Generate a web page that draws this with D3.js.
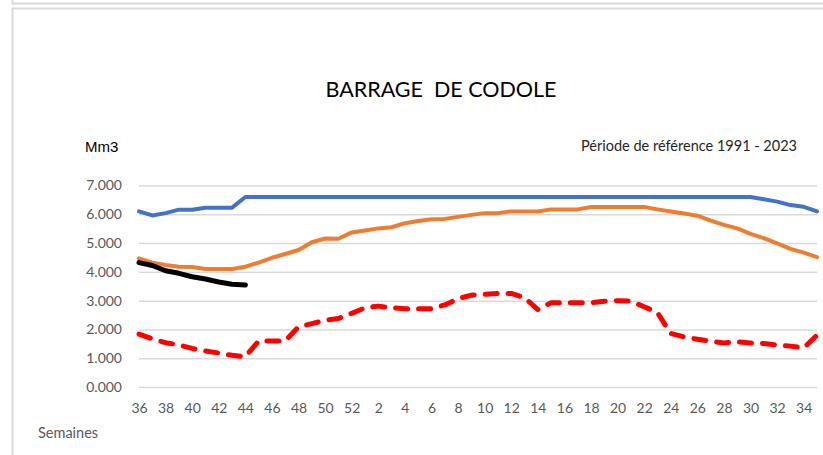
<!DOCTYPE html>
<html>
<head>
<meta charset="utf-8">
<script src="https://cdn.jsdelivr.net/npm/d3@7"></script>
<style>
  body { margin: 0; background: #fff; }
  text { font-family: Lato, "Liberation Sans", sans-serif; }
</style>
</head>
<body>
<svg id="chart"></svg>
<script>
const svgWidth = 823,
    svgHeight = 455,
    plot = {left: 139, right: 817, top: 185.5, bottom: 387};

// semaines hydrologiques : 36 -> 52 puis 1 -> 35
const weeks = d3.range(36, 53).concat(d3.range(1, 36));

const maxValues = [6.10, 5.96, 6.04, 6.16, 6.16, 6.23, 6.23, 6.23, 6.60, 6.60,
    6.60, 6.60, 6.60, 6.60, 6.60, 6.60, 6.60, 6.60, 6.60, 6.60,
    6.60, 6.60, 6.60, 6.60, 6.60, 6.60, 6.60, 6.60, 6.60, 6.60,
    6.60, 6.60, 6.60, 6.60, 6.60, 6.60, 6.60, 6.60, 6.60, 6.60,
    6.60, 6.60, 6.60, 6.60, 6.60, 6.60, 6.60, 6.52, 6.44, 6.32,
    6.26, 6.10];

const meanValues = [4.47, 4.32, 4.24, 4.18, 4.17, 4.10, 4.10, 4.10, 4.18, 4.32,
    4.49, 4.62, 4.76, 5.03, 5.16, 5.15, 5.37, 5.44, 5.51, 5.55,
    5.69, 5.77, 5.83, 5.84, 5.91, 5.98, 6.04, 6.04, 6.10, 6.10,
    6.10, 6.17, 6.17, 6.17, 6.25, 6.25, 6.25, 6.25, 6.25, 6.17,
    6.10, 6.03, 5.95, 5.78, 5.63, 5.51, 5.32, 5.17, 4.99, 4.80,
    4.67, 4.51];

const minValues = [1.84, 1.67, 1.54, 1.46, 1.34, 1.25, 1.18, 1.10, 1.05, 1.60,
    1.60, 1.60, 2.09, 2.20, 2.32, 2.38, 2.56, 2.75, 2.81, 2.75,
    2.72, 2.72, 2.72, 2.85, 3.07, 3.19, 3.22, 3.25, 3.25, 3.10,
    2.69, 2.93, 2.93, 2.93, 2.93, 2.98, 3.00, 2.98, 2.79, 2.58,
    1.86, 1.74, 1.66, 1.59, 1.53, 1.57, 1.53, 1.51, 1.46, 1.42,
    1.36, 1.80];

// année en cours (s'arrête semaine 44)
const currentValues = [4.32, 4.22, 4.04, 3.95, 3.83, 3.75, 3.65, 3.57, 3.54];

const yTicks = [0, 1, 2, 3, 4, 5, 6, 7];
const formatValue = d3.format(".3f");

const chart = d3.select('#chart')
    .attr("width", svgWidth)
    .attr("height", svgHeight);

// cadres gris (bas du graphique précédent + cadre de celui-ci)
chart.append("path")
    .attr("d", "M12.5,0 V3.5 H823")
    .attr("fill", "none").attr("stroke", "#dadada").attr("stroke-width", 2);
chart.append("path")
    .attr("d", "M12.5,460 V8.5 H823")
    .attr("fill", "none").attr("stroke", "#dadada").attr("stroke-width", 2);

var xScale = d3.scalePoint().domain(weeks).range([plot.left, plot.right]);
var yScale = d3.scaleLinear().domain([0, 7]).range([plot.bottom, plot.top]);

// grille + axe Y
var yAxis = d3.axisLeft(yScale)
    .tickValues(yTicks)
    .tickFormat(formatValue)
    .tickSize(-(plot.right - plot.left))
    .tickPadding(17);

var gy = chart.append("g")
    .attr("transform", "translate(" + plot.left + ",0)")
    .call(yAxis);
gy.select(".domain").remove();
gy.selectAll(".tick line").attr("stroke", "#d9d9d9").attr("stroke-width", 1.5);
gy.selectAll(".tick text").attr("fill", "#595959").style("font-size", "14px");

// axe X
var xAxis = d3.axisBottom(xScale)
    .tickValues(weeks.filter(function(w){ return w % 2 == 0; }))
    .tickSize(0)
    .tickPadding(16);

var gx = chart.append("g")
    .attr("transform", "translate(0," + plot.bottom + ")")
    .call(xAxis);
gx.select(".domain").remove();
gx.selectAll(".tick text").attr("fill", "#595959").style("font-size", "14px");

// courbes
var valueline = d3.line()
    .x(function(d, i){ return xScale(weeks[i]); })
    .y(function(d){ return yScale(d); })
    .curve(d3.curveLinear);

function drawLine(values, color, width, dash) {
    chart.append("path")
        .datum(values)
        .attr("d", valueline)
        .attr("fill", "none")
        .attr("stroke", color)
        .attr("stroke-width", width)
        .attr("stroke-linejoin", "round")
        .attr("stroke-linecap", "round")
        .attr("stroke-dasharray", dash);
}

drawLine(minValues, "#ff0000", 5, "12,11");
drawLine(meanValues, "#ed7d31", 4, null);
drawLine(maxValues, "#4472c4", 4, null);
drawLine(currentValues, "#000000", 5, null);

// textes
chart.append("text")
    .attr("x", 441).attr("y", 97)
    .attr("text-anchor", "middle")
    .style("font-size", "21.5px")
    .style("white-space", "pre")
    .attr("fill", "#000")
    .text("BARRAGE  DE CODOLE");

chart.append("text")
    .attr("x", 85).attr("y", 152)
    .style("font-family", "'Liberation Sans', Arial, sans-serif")
    .style("font-size", "15px")
    .attr("fill", "#000")
    .text("Mm3");

chart.append("text")
    .attr("x", 797).attr("y", 151)
    .attr("text-anchor", "end")
    .style("font-size", "14.5px")
    .attr("fill", "#262626")
    .text("Période de référence 1991 - 2023");

chart.append("text")
    .attr("x", 38).attr("y", 438)
    .style("font-size", "14.5px")
    .attr("fill", "#595959")
    .text("Semaines");
</script>
</body>
</html>
